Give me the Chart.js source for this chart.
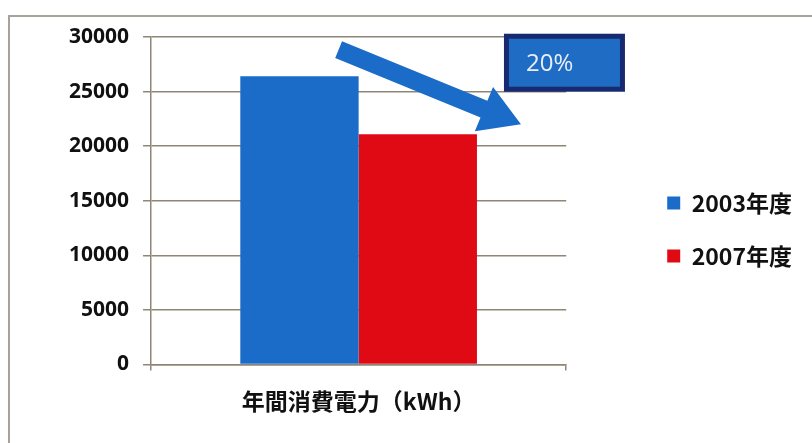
<!DOCTYPE html>
<html>
<head>
<meta charset="utf-8">
<script src="https://cdn.jsdelivr.net/npm/chart.js@4.4.0/dist/chart.umd.min.js"></script>
<style>
  body{margin:0;background:#fff;}
  #wrap{position:relative;width:812px;height:443px;overflow:hidden;}
  #frame{position:absolute;left:8px;top:15px;width:830px;height:460px;border:2px solid #a8a29a;box-sizing:border-box;}
  canvas{position:absolute;left:0;top:0;}
</style>
</head>
<body>
<div id="wrap">
  <div id="frame"></div>
  <canvas id="chart" width="812" height="443"></canvas>
</div>
<script>
// データ
const categories = ['年間消費電力（kWh）'];
const seriesNames = ['2003年度', '2007年度'];
const values2003 = [26400];
const values2007 = [21100];
const yTicks = [0, 5000, 10000, 15000, 20000, 25000, 30000];
const reductionLabel = '20%';

const BLUE = '#1a6cc8';
const RED = '#df0a14';
const GRID = '#8e8677';

// 凡例をグラフから離して右へ寄せる
const LEGEND_GAP = 71;
const legendShift = {
  id: 'legendShift',
  beforeLayout(chart){
    const lg = chart.legend;
    if(lg && !lg._wrapped){
      const fit = lg.fit;
      lg.fit = function(){ fit.call(this); this.width += LEGEND_GAP; };
      lg._wrapped = true;
    }
  },
  afterLayout(chart){
    const lg = chart.legend;
    lg.left += LEGEND_GAP;
    lg.top -= 5; lg.bottom -= 5;
  }
};

// 矢印と「20%」ボックスを描く
const arrowPlugin = {
  id: 'arrowPlugin',
  afterDatasetsDraw(chart){
    const ctx = chart.ctx;
    const y = chart.scales.y;
    const blue = chart.getDatasetMeta(0).data[0];
    const red = chart.getDatasetMeta(1).data[0];
    const bRight = blue.x + blue.width/2;
    const rRight = red.x + red.width/2;
    const sx = bRight - 20, sy = y.getPixelForValue(28850);
    const tx = rRight + 44, ty = y.getPixelForValue(22000);
    const dx = tx - sx, dy = ty - sy, len = Math.hypot(dx, dy);
    const ux = dx/len, uy = dy/len, px = -uy, py = ux;
    const shaft = 9, head = 24, headLen = 40;
    const bx = tx - ux*headLen, by = ty - uy*headLen;
    ctx.save();
    ctx.fillStyle = BLUE;
    ctx.beginPath();
    ctx.moveTo(sx + px*shaft, sy + py*shaft);
    ctx.lineTo(bx + px*shaft, by + py*shaft);
    ctx.lineTo(bx + px*head, by + py*head);
    ctx.lineTo(tx, ty);
    ctx.lineTo(bx - px*head, by - py*head);
    ctx.lineTo(bx - px*shaft, by - py*shaft);
    ctx.lineTo(sx - px*shaft, sy - py*shaft);
    ctx.closePath();
    ctx.fill();

    // ボックス
    const boxL = rRight + 27, boxT = y.getPixelForValue(30300);
    const boxW = 121, boxH = 58;
    ctx.fillStyle = '#17296f';
    ctx.fillRect(boxL, boxT, boxW, boxH);
    ctx.fillStyle = '#1f6cc5';
    ctx.fillRect(boxL + 5, boxT + 5, boxW - 10, boxH - 10);
    ctx.fillStyle = '#e9eef8';
    ctx.font = '24px "Open Sans"';
    ctx.textBaseline = 'middle';
    ctx.fillText(reductionLabel, boxL + 22, boxT + boxH/2 + 1);
    ctx.restore();
  }
};

new Chart(document.getElementById('chart').getContext('2d'), {
  type: 'bar',
  data: {
    labels: categories,
    datasets: [
      {label: seriesNames[0], data: values2003, backgroundColor: BLUE},
      {label: seriesNames[1], data: values2007, backgroundColor: RED}
    ]
  },
  options: {
    responsive: false,
    animation: false,
    layout: {padding: {left: 55, top: 37, right: 10, bottom: 11}},
    datasets: {bar: {categoryPercentage: 0.57, barPercentage: 1}},
    plugins: {
      tooltip: {enabled: false},
      legend: {
        position: 'right',
        align: 'center',
        labels: {
          boxWidth: 13, boxHeight: 13,
          padding: 30,
          color: '#111',
          font: {family: '"Noto Sans CJK JP", "Open Sans"', size: 23, weight: 'bold'}
        }
      }
    },
    scales: {
      x: {
        grid: {drawOnChartArea: false, drawTicks: true, tickLength: 6, color: GRID, lineWidth: 1.5},
        border: {color: GRID, width: 1.5},
        ticks: {color: '#111', padding: 17, font: {family: '"Noto Sans CJK JP", "Open Sans"', size: 23, weight: 'bold'}}
      },
      y: {
        min: 0, max: 30000,
        afterBuildTicks(axis){ axis.ticks = yTicks.map(v => ({value: v})); },
        grid: {color: GRID, lineWidth: 1.5, tickLength: 8},
        border: {color: GRID, width: 1.5},
        ticks: {
          color: '#111', padding: 14,
          font: {family: '"Open Sans"', size: 21, weight: 'bold'},
          callback: v => String(v)
        }
      }
    }
  },
  plugins: [legendShift, arrowPlugin]
});
</script>
</body>
</html>
